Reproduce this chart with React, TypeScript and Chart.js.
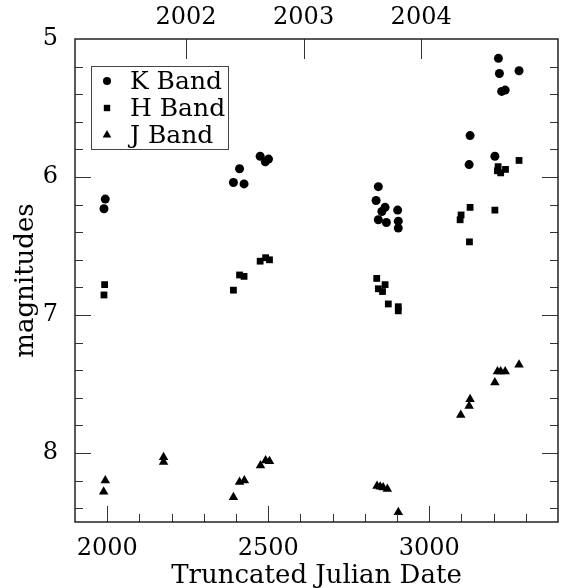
import React, { useEffect, useRef } from 'react';
import { Chart, registerables } from 'chart.js';

Chart.register(...registerables);

// K band (x: truncated Julian date, y: magnitude)
const kDates = [1994, 1990, 2392, 2411, 2425, 2475, 2491, 2501, 2842, 2835, 2863, 2853, 2902, 2842, 2867, 2904, 2904, 3215, 3279, 3218, 3225, 3236, 3127, 3204, 3124];
const kMags = [6.16, 6.23, 6.04, 5.94, 6.05, 5.85, 5.89, 5.87, 6.07, 6.17, 6.22, 6.25, 6.24, 6.31, 6.33, 6.32, 6.37, 5.14, 5.23, 5.25, 5.38, 5.37, 5.70, 5.85, 5.91];

// H band
const hDates = [1992, 1990, 2392, 2411, 2425, 2475, 2492, 2504, 2837, 2863, 2842, 2855, 2873, 2904, 2904, 3279, 3214, 3237, 3212, 3222, 3127, 3204, 3099, 3096, 3125];
const hMags = [6.78, 6.855, 6.82, 6.71, 6.72, 6.61, 6.585, 6.60, 6.735, 6.78, 6.81, 6.83, 6.92, 6.94, 6.97, 5.88, 5.925, 5.945, 5.955, 5.97, 6.22, 6.24, 6.275, 6.31, 6.47];

// J band
const jDates = [1994, 1989, 2175, 2175, 2392, 2411, 2426, 2476, 2492, 2504, 2838, 2848, 2857, 2870, 2904, 3098, 3124, 3127, 3204, 3212, 3222, 3236, 3279];
const jMags = [8.20, 8.28, 8.03, 8.065, 8.32, 8.21, 8.20, 8.09, 8.055, 8.06, 8.24, 8.245, 8.25, 8.26, 8.43, 7.725, 7.66, 7.61, 7.49, 7.41, 7.41, 7.41, 7.36];

const seriesNames = ['K Band', 'H Band', 'J Band'];

// axis ticks
const dateTicks = [2000, 2500, 3000];
const dateMinorStep = 100;
const yearTickDates = [2245, 2610, 2975];
const yearTickLabels = ['2002', '2003', '2004'];
const magTicks = [5, 6, 7, 8];
const magMinorStep = 0.2;

const X_MIN = 1900;
const X_MAX = 3400;
const Y_MIN = 5;
const Y_MAX = 8.5;

const FONT = "'DejaVu Serif', serif";

export default function App() {
  const ref = useRef<HTMLCanvasElement>(null);

  useEffect(() => {
    if (!ref.current) return;
    const toPts = (xs: number[], ys: number[]) => xs.map((x, i) => ({ x, y: ys[i] }));

    const framePlugin = {
      id: 'frameTicksLegend',
      afterDatasetsDraw(chart: any) {
        const { ctx, chartArea: a, scales } = chart;
        const xs = scales.x;
        const ys = scales.y;
        const xt = scales.x2;
        ctx.save();
        // ticks
        ctx.strokeStyle = '#333';
        ctx.lineWidth = 1;
        ctx.beginPath();
        const nx = Math.round((X_MAX - X_MIN) / dateMinorStep);
        for (let i = 1; i < nx; i++) {
          const v = X_MIN + i * dateMinorStep;
          const px = Math.round(xs.getPixelForValue(v)) + 0.5;
          const len = dateTicks.includes(v) ? 16 : 8;
          ctx.moveTo(px, a.bottom);
          ctx.lineTo(px, a.bottom - len);
        }
        yearTickDates.forEach((v) => {
          const px = Math.round(xt.getPixelForValue(v)) + 0.5;
          ctx.moveTo(px, a.top);
          ctx.lineTo(px, a.top + 20);
        });
        const ny = Math.round((Y_MAX - Y_MIN) / magMinorStep);
        for (let i = 1; i < ny; i++) {
          const v = Y_MIN + i * magMinorStep;
          const py = Math.round(ys.getPixelForValue(v)) + 0.5;
          const major = Math.abs(v - Math.round(v)) < 1e-6;
          const len = major ? 16 : 8;
          ctx.moveTo(a.left, py);
          ctx.lineTo(a.left + len, py);
          ctx.moveTo(a.right, py);
          ctx.lineTo(a.right - len, py);
        }
        ctx.stroke();
        // frame
        ctx.strokeStyle = '#222';
        ctx.lineWidth = 1.5;
        ctx.strokeRect(a.left, a.top, a.right - a.left, a.bottom - a.top);

        // legend
        const lx = a.left + 16;
        const ly = a.top + 27;
        const lw = 137;
        const lh = 83;
        ctx.lineWidth = 1;
        ctx.strokeStyle = '#444';
        ctx.strokeRect(lx + 0.5, ly + 0.5, lw, lh);
        ctx.fillStyle = '#000';
        ctx.font = `25px ${FONT}`;
        ctx.textBaseline = 'middle';
        ctx.textAlign = 'left';
        const rows = [15, 42, 69];
        const mx = lx + 16;
        chart.data.datasets.forEach((ds: any, i: number) => {
          const cy = ly + rows[i];
          ctx.beginPath();
          if (ds.pointStyle === 'circle') {
            ctx.arc(mx, cy, 4, 0, Math.PI * 2);
          } else if (ds.pointStyle === 'rect') {
            ctx.rect(mx - 3.2, cy - 3.2, 6.4, 6.4);
          } else {
            const r = 5;
            ctx.moveTo(mx, cy - r);
            ctx.lineTo(mx + r * 0.866, cy + r / 2);
            ctx.lineTo(mx - r * 0.866, cy + r / 2);
            ctx.closePath();
          }
          ctx.fill();
          ctx.fillText(ds.label, lx + 39, cy + 1);
        });
        ctx.restore();
      },
    };

    const tickFont = { family: FONT, size: 24 };

    const chart = new Chart(ref.current, {
      type: 'scatter',
      data: {
        datasets: [
          { label: seriesNames[0], data: toPts(kDates, kMags), pointStyle: 'circle', pointRadius: 4.5, backgroundColor: '#000', borderWidth: 0 },
          { label: seriesNames[1], data: toPts(hDates, hMags), pointStyle: 'rect', pointRadius: 4.8, backgroundColor: '#000', borderWidth: 0 },
          { label: seriesNames[2], data: toPts(jDates, jMags), pointStyle: 'triangle', pointRadius: 5.5, backgroundColor: '#000', borderWidth: 0 },
        ] as any,
      },
      options: {
        animation: false,
        responsive: true,
        maintainAspectRatio: false,
        layout: { padding: { left: 0, right: 11, top: 0, bottom: 0 } },
        plugins: { legend: { display: false }, tooltip: { enabled: false } },
        scales: {
          x: {
            type: 'linear',
            position: 'bottom',
            min: X_MIN,
            max: X_MAX,
            grid: { display: false },
            border: { display: false },
            afterBuildTicks: (s: any) => { s.ticks = dateTicks.map((v) => ({ value: v })); },
            afterFit: (s: any) => { s.height = 66; },
            ticks: { font: tickFont, color: '#000', padding: 4, maxRotation: 0, autoSkip: false, callback: (v: any) => String(v) },
            title: { display: true, text: 'Truncated Julian Date', font: { family: FONT, size: 26 }, color: '#000', padding: { top: 0, bottom: -4 } },
          },
          x2: {
            type: 'linear',
            position: 'top',
            min: X_MIN,
            max: X_MAX,
            grid: { display: false },
            border: { display: false },
            afterBuildTicks: (s: any) => { s.ticks = yearTickDates.map((v) => ({ value: v })); },
            afterFit: (s: any) => { s.height = 39; },
            ticks: {
              font: tickFont, color: '#000', padding: -1, maxRotation: 0, autoSkip: false,
              callback: (v: any) => { const i = yearTickDates.indexOf(Number(v)); return i >= 0 ? yearTickLabels[i] : ''; },
            },
          },
          y: {
            type: 'linear',
            position: 'left',
            reverse: true,
            min: Y_MIN,
            max: Y_MAX,
            grid: { display: false },
            border: { display: false },
            afterBuildTicks: (s: any) => { s.ticks = magTicks.map((v) => ({ value: v })); },
            afterFit: (s: any) => { s.width = 75; },
            ticks: { font: tickFont, color: '#000', padding: 9, autoSkip: false, callback: (v: any) => String(v) },
            title: { display: true, text: 'magnitudes', font: { family: FONT, size: 26 }, color: '#000', padding: { top: 11, bottom: 0 } },
          },
        },
      } as any,
      plugins: [framePlugin],
    });
    return () => chart.destroy();
  }, []);

  return (
    <div style={{ position: 'fixed', left: 0, top: 0, width: 569, height: 588, background: '#fff' }}>
      <canvas ref={ref} />
    </div>
  );
}
